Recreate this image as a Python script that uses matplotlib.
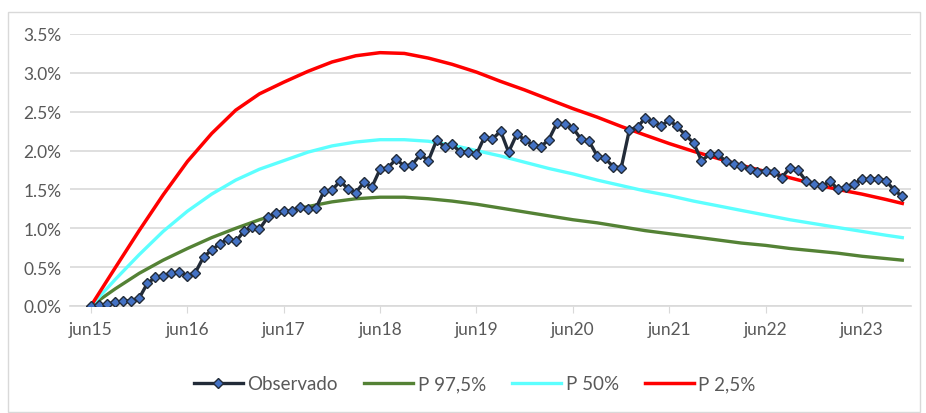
import matplotlib

matplotlib.use("Agg")
import matplotlib.pyplot as plt
import matplotlib.patches as mpatches
import pandas as pd

START = "2015-06-01"

# observed monthly values (%), jun15 .. nov23
observado = [
    0.00, 0.01, 0.02, 0.05, 0.06, 0.07, 0.10, 0.29, 0.37, 0.39, 0.42, 0.44,
    0.39, 0.43, 0.63, 0.72, 0.80, 0.86, 0.83, 0.96, 1.02, 0.99, 1.14, 1.20,
    1.22, 1.22, 1.28, 1.25, 1.26, 1.48, 1.49, 1.61, 1.50, 1.46, 1.59, 1.53,
    1.76, 1.78, 1.89, 1.80, 1.82, 1.95, 1.87, 2.13, 2.05, 2.08, 1.98, 1.98,
    1.95, 2.17, 2.15, 2.25, 1.98, 2.21, 2.14, 2.07, 2.05, 2.14, 2.35, 2.34,
    2.29, 2.15, 2.12, 1.93, 1.90, 1.79, 1.78, 2.27, 2.30, 2.42, 2.37, 2.32,
    2.39, 2.31, 2.20, 2.10, 1.87, 1.95, 1.96, 1.86, 1.83, 1.80, 1.76, 1.73,
    1.74, 1.73, 1.65, 1.78, 1.75, 1.61, 1.57, 1.54, 1.61, 1.50, 1.53, 1.57,
    1.63, 1.63, 1.64, 1.61, 1.49, 1.41,
]

# percentile curves, read every quarter from jun15 (last point nov23)
curve_months = list(range(0, 100, 3)) + [101]
p975 = [0.00, 0.22, 0.42, 0.59, 0.74, 0.88, 1.00, 1.11, 1.21, 1.28, 1.34, 1.38,
        1.40, 1.40, 1.38, 1.35, 1.31, 1.26, 1.21, 1.16, 1.11, 1.07, 1.02, 0.97,
        0.93, 0.89, 0.85, 0.81, 0.78, 0.74, 0.71, 0.68, 0.64, 0.61, 0.59]
p50 = [0.00, 0.34, 0.66, 0.96, 1.22, 1.44, 1.62, 1.76, 1.87, 1.98, 2.06, 2.11,
       2.14, 2.14, 2.12, 2.07, 2.00, 1.93, 1.85, 1.77, 1.70, 1.62, 1.55, 1.48,
       1.42, 1.35, 1.29, 1.23, 1.17, 1.11, 1.06, 1.01, 0.96, 0.91, 0.88]
p25 = [0.00, 0.49, 0.97, 1.43, 1.86, 2.22, 2.52, 2.73, 2.88, 3.02, 3.14, 3.22,
       3.26, 3.25, 3.19, 3.11, 3.01, 2.89, 2.78, 2.66, 2.54, 2.43, 2.31, 2.20,
       2.09, 1.99, 1.90, 1.81, 1.73, 1.65, 1.57, 1.50, 1.44, 1.37, 1.32]

tick_labels = ["jun15", "jun16", "jun17", "jun18", "jun19", "jun20", "jun21",
               "jun22", "jun23"]
y_ticks = [0.0, 0.5, 1.0, 1.5, 2.0, 2.5, 3.0, 3.5]

GRID = "#D9D9D9"
TEXT = "#595959"

plt.rcParams["font.family"] = ["Lato", "DejaVu Sans"]

dates = pd.date_range(START, periods=len(observado), freq="MS")
curve_dates = dates[curve_months]
tick_dates = dates[::12][: len(tick_labels)]

fig = plt.figure(figsize=(9.26, 4.14), dpi=100)
ax = fig.add_axes([70 / 926, 1 - 307 / 414, (911 - 70) / 926, (307 - 35) / 414])

ax.plot(curve_dates, p975, color="#548235", lw=2.4, label="P 97,5%", zorder=2)
ax.plot(curve_dates, p50, color="#5CFFFF", lw=2.4, label="P 50%", zorder=2)
ax.plot(curve_dates, p25, color="#FF0000", lw=2.5, label="P 2,5%", zorder=2)
ax.plot(dates, observado, color="#222B38", lw=2.4, marker="D", ms=5.2,
        mfc="#4472C4", mec="#222B38", mew=1.0, label="Observado", zorder=3)

ax.set_ylim(0, 3.5)
ax.set_yticks(y_ticks)
ax.set_yticklabels([f"{v:.1f}%" for v in y_ticks])
ax.set_xlim(dates[0] - pd.Timedelta(days=79), dates[-1] + pd.Timedelta(days=33))
ax.set_xticks(tick_dates)
ax.set_xticklabels(tick_labels)

ax.grid(axis="y", color=GRID, lw=1.2)
ax.set_axisbelow(True)
for side in ("top", "right", "left"):
    ax.spines[side].set_visible(False)
ax.spines["bottom"].set_color(GRID)
ax.spines["bottom"].set_linewidth(1.2)
ax.tick_params(axis="y", length=0, labelsize=12.5, labelcolor=TEXT, pad=6)
ax.tick_params(axis="x", length=5, color=GRID, labelsize=12.5, labelcolor=TEXT, pad=6)

handles, labels = ax.get_legend_handles_labels()
order = [3, 0, 1, 2]
fig.legend([handles[i] for i in order], [labels[i] for i in order],
           loc="center", bbox_to_anchor=(475 / 926, 1 - 385 / 414), ncol=4,
           frameon=False, fontsize=13.5, labelcolor=TEXT, handlelength=2.6,
           handletextpad=0.25, columnspacing=1.4, markerscale=0.9)

fig.patches.append(mpatches.Rectangle((8 / 926, 1 / 414), 912 / 926, 400 / 414,
                                      transform=fig.transFigure, fill=False,
                                      edgecolor=GRID, lw=1.0))

fig.savefig("out.png", dpi=100)
plt.close(fig)
